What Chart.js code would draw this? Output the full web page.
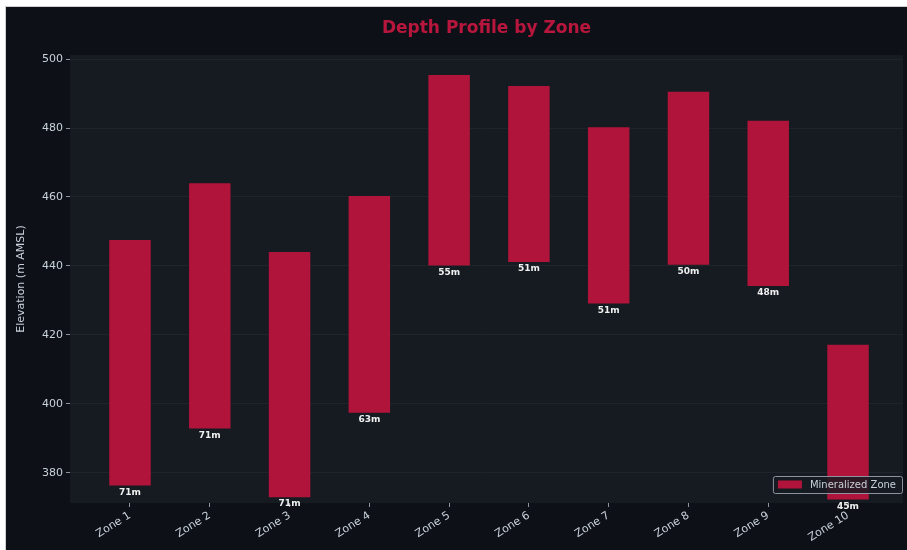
<!DOCTYPE html>
<html>
<head>
<meta charset="utf-8">
<title>Depth Profile by Zone</title>
<script src="https://cdn.jsdelivr.net/npm/chart.js@4.4.1/dist/chart.umd.min.js"></script>
<style>
    html, body { margin: 0; padding: 0; background: #ffffff; }
    #wrap { width: 907px; height: 550px; position: relative; }
</style>
</head>
<body>
<div id="wrap"><canvas id="depthChart" width="907" height="550"></canvas></div>
<script>
const zones = ['Zone 1', 'Zone 2', 'Zone 3', 'Zone 4', 'Zone 5', 'Zone 6', 'Zone 7', 'Zone 8', 'Zone 9', 'Zone 10'];
const zoneTop = [447.5, 464.0, 444.0, 460.3, 495.4, 492.2, 480.2, 490.5, 482.1, 417.1];
const zoneBottom = [376.3, 392.8, 372.9, 397.4, 440.1, 441.1, 429.1, 440.3, 434.2, 372.2];
const yTicks = [380, 400, 420, 440, 460, 480, 500];

const BAR_COLOR = '#b0143a';
const FIG_BG = '#0d1117';
const AX_BG = '#161b22';
const TEXT_COLOR = '#c9d1d9';
const FONT = "'DejaVu Sans', sans-serif";

// figure + axes backgrounds
const backgroundPlugin = {
    id: 'backgrounds',
    beforeDraw(chart) {
        const { ctx, chartArea } = chart;
        ctx.save();
        ctx.fillStyle = '#ffffff';
        ctx.fillRect(0, 0, chart.width, chart.height);
        ctx.fillStyle = '#d0d0d0';
        ctx.fillRect(5, 6, chart.width - 5, chart.height - 6);
        ctx.fillStyle = FIG_BG;
        ctx.fillRect(6, 7, chart.width - 6, chart.height - 7);
        ctx.fillStyle = AX_BG;
        ctx.fillRect(chartArea.left, chartArea.top, chartArea.right - chartArea.left, chartArea.bottom - chartArea.top);

        // title centred over the axes
        ctx.fillStyle = '#b8163c';
        ctx.font = 'bold 17px ' + FONT;
        ctx.textAlign = 'center';
        ctx.textBaseline = 'middle';
        ctx.fillText('Depth Profile by Zone', (chartArea.left + chartArea.right) / 2, 29);
        ctx.restore();
    }
};

// thickness labels under each bar, then the legend box
const annotationPlugin = {
    id: 'annotations',
    afterDatasetsDraw(chart) {
        const { ctx, chartArea } = chart;
        const meta = chart.getDatasetMeta(0);
        ctx.save();
        ctx.fillStyle = '#f0f0f0';
        ctx.font = 'bold 9px ' + FONT;
        ctx.textAlign = 'center';
        ctx.textBaseline = 'middle';
        meta.data.forEach((bar, i) => {
            const bottom = Math.max(bar.y, bar.base);
            const thickness = Math.round(zoneTop[i] - zoneBottom[i]);
            ctx.fillText(thickness + 'm', bar.x, bottom + 7);
        });

        const label = chart.data.datasets[0].label;
        ctx.font = '10px ' + FONT;
        const textW = ctx.measureText(label).width;
        const boxW = 5 + 24 + 8 + textW + 6;
        const boxH = 17;
        const boxX = chartArea.right - 1 - boxW;
        const boxY = chartArea.bottom - 10 - boxH;
        ctx.fillStyle = 'rgba(22, 27, 34, 0.85)';
        ctx.strokeStyle = '#8b949e';
        ctx.lineWidth = 1;
        ctx.beginPath();
        ctx.roundRect(boxX + 0.5, boxY + 0.5, boxW, boxH, 2);
        ctx.fill();
        ctx.stroke();
        ctx.fillStyle = BAR_COLOR;
        ctx.fillRect(boxX + 5, boxY + boxH / 2 - 4, 24, 8);
        ctx.fillStyle = TEXT_COLOR;
        ctx.textAlign = 'left';
        ctx.fillText(label, boxX + 5 + 24 + 8, boxY + boxH / 2 + 1);
        ctx.restore();
    }
};

const barData = zones.map((z, i) => ({ x: i, y: [zoneBottom[i], zoneTop[i]] }));

const ctx = document.getElementById('depthChart').getContext('2d');
new Chart(ctx, {
    type: 'bar',
    data: {
        datasets: [{
            label: 'Mineralized Zone',
            data: barData,
            backgroundColor: BAR_COLOR,
            borderWidth: 0,
            categoryPercentage: 0.52,
            barPercentage: 1.0
        }]
    },
    options: {
        responsive: false,
        animation: false,
        layout: { padding: { top: 55, right: 4, left: 0, bottom: 0 } },
        plugins: {
            legend: { display: false },
            title: { display: false },
            tooltip: { enabled: false }
        },
        scales: {
            x: {
                type: 'linear',
                offset: false,
                min: -0.752,
                max: 9.689,
                afterBuildTicks: (scale) => {
                    scale.ticks = zones.map((z, i) => ({ value: i }));
                },
                afterFit: (scale) => { scale.height = 47; },
                grid: {
                    offset: false,
                    drawOnChartArea: false,
                    drawTicks: true,
                    tickLength: 4,
                    tickColor: '#8b949e'
                },
                border: { display: false },
                ticks: {
                    color: TEXT_COLOR,
                    font: { family: FONT, size: 11 },
                    minRotation: 32,
                    maxRotation: 32,
                    padding: 2,
                    callback: (value) => zones[value]
                }
            },
            y: {
                min: 371.2,
                max: 501.2,
                afterBuildTicks: (scale) => {
                    scale.ticks = yTicks.map(v => ({ value: v }));
                },
                afterFit: (scale) => { scale.width = 70; },
                grid: {
                    color: 'rgba(255, 255, 255, 0.04)',
                    tickColor: '#8b949e',
                    tickLength: 4
                },
                border: { display: false },
                ticks: {
                    color: TEXT_COLOR,
                    font: { family: FONT, size: 11 },
                    padding: 3
                },
                title: {
                    display: true,
                    text: 'Elevation (m AMSL)',
                    color: TEXT_COLOR,
                    font: { family: FONT, size: 11 },
                    padding: { top: 15, bottom: 0 }
                }
            }
        }
    },
    plugins: [backgroundPlugin, annotationPlugin]
});
</script>
</body>
</html>
